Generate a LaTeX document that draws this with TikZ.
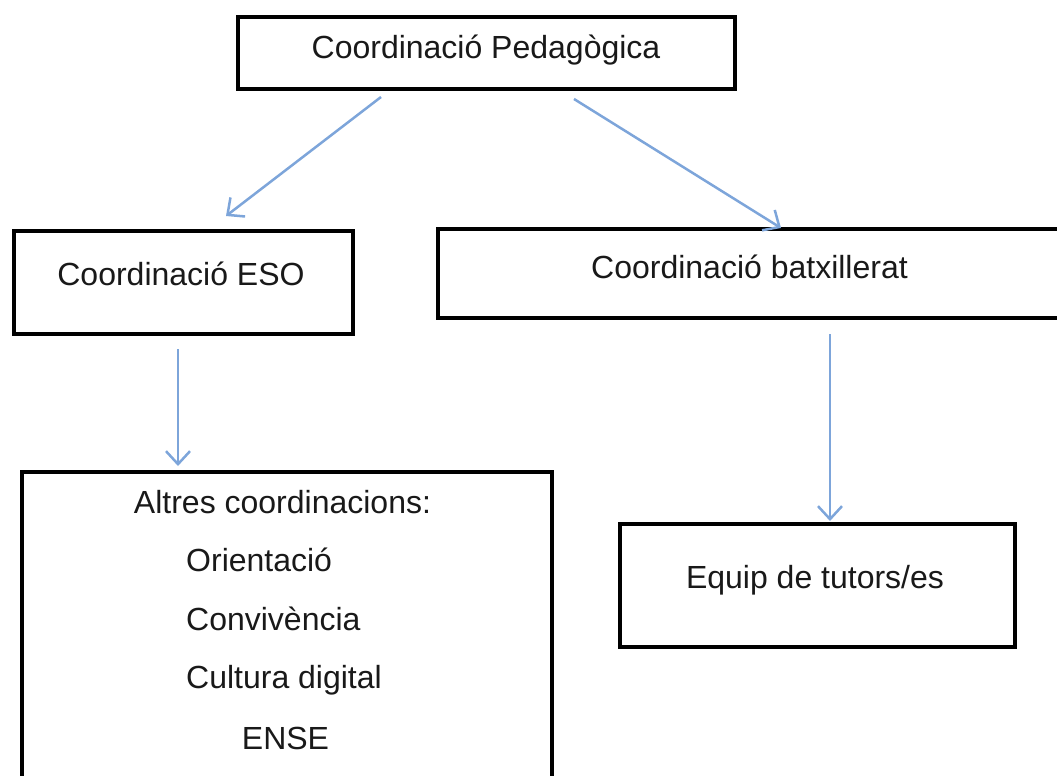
\documentclass[tikz,border=0pt]{standalone}
\usepackage{fontspec}
\setmainfont{Liberation Sans}
\usetikzlibrary{arrows.meta,calc}
\definecolor{arrowblue}{RGB}{125,165,218}
\begin{document}
\begin{tikzpicture}[x=1pt,y=-1pt,
  boxnode/.style={draw=black,line width=4pt,rectangle,outer sep=0pt,inner sep=0pt},
  txt/.style={anchor=base,inner sep=0pt,font=\fontsize{32}{38}\selectfont,text=black!90},
  txtleft/.style={anchor=base west,inner sep=0pt,font=\fontsize{32}{38}\selectfont,text=black!90},
  conn/.style={draw=arrowblue,line width=2.5pt,-{Straight Barb[length=13pt,width=24pt,line width=2.5pt]}}]
\useasboundingbox (0,0) rectangle (1057,776);
% boxes
\node[boxnode,minimum width=497pt,minimum height=72pt] (top) at (486.5,53) {};
\node[boxnode,minimum width=339pt,minimum height=103pt] (eso) at (183.5,282.5) {};
\node[boxnode,minimum width=632pt,minimum height=89pt] (batx) at (754,273.5) {};
\node[boxnode,minimum width=530pt,minimum height=328pt] (altres) at (287,636) {};
\node[boxnode,minimum width=395pt,minimum height=123pt] (equip) at (817.5,585.5) {};
% texts
\node[txt] (toptxt) at (486,59) {Coordinació Pedagògica};
\node[txt] (esotxt) at (181,285) {Coordinació ESO};
\node[txt] (batxtxt) at (749.5,278) {Coordinació batxillerat};
\node[txt] (altrestxt) at (282.5,513.5) {Altres coordinacions:};
\node[txtleft] (orient) at (186,571.5) {Orientació};
\node[txtleft] (conviv) at (186,630.5) {Convivència};
\node[txtleft] (cultura) at (186,688.5) {Cultura digital};
\node[txt] (ense) at (285.5,749.5) {ENSE};
\node[txt] (equiptxt) at (815,588.5) {Equip de tutors/es};
% connectors
\draw[conn] ($(top.south west)+(143,8)$) -- ($(eso.north west)+(212,-15)$);
\draw[conn] ($(top.south west)+(336,10)$) -- ($(batx.north west)+(343,-1)$);
\draw[conn] ($(eso.south west)+(164,15)$) -- ($(altres.north west)+(156,-6)$);
\draw[conn] ($(batx.south west)+(392,16)$) -- ($(equip.north west)+(210,-3)$);
\end{tikzpicture}
\end{document}
